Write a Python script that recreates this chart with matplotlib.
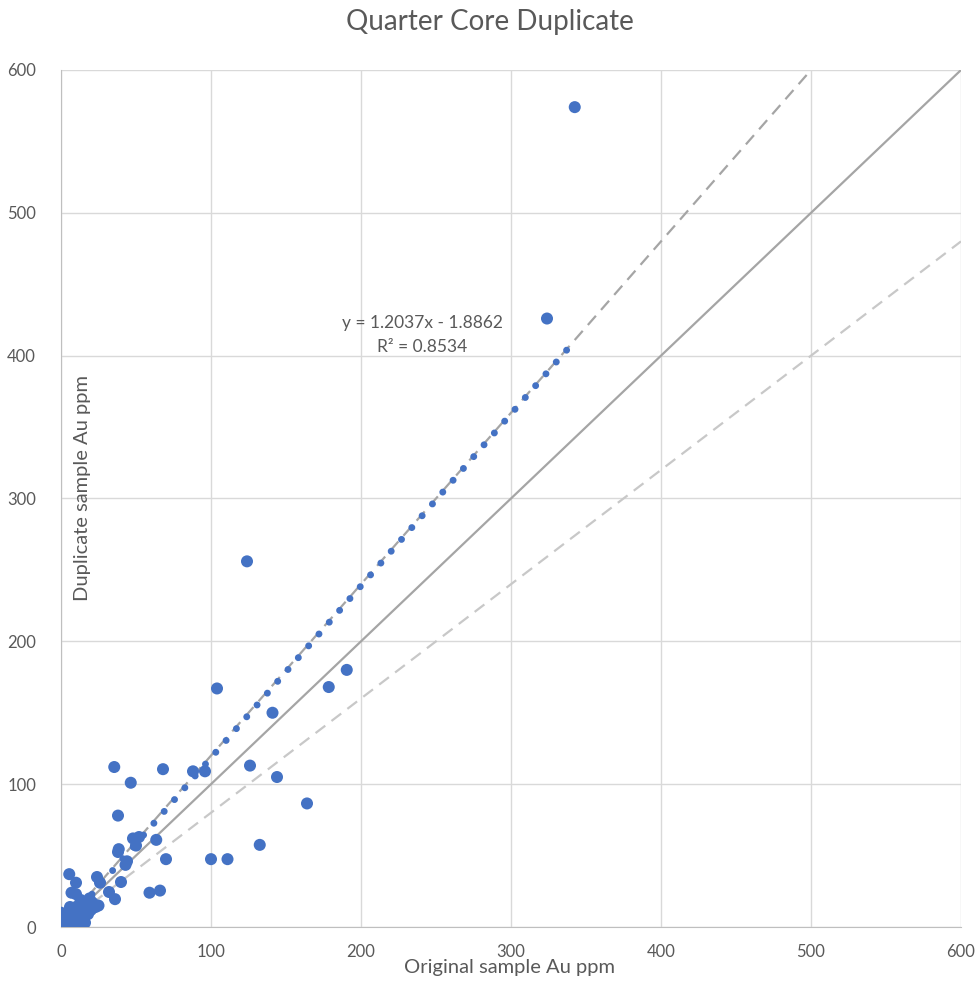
import matplotlib.pyplot as plt
import numpy as np

plt.rcParams['font.family'] = ['Lato', 'DejaVu Sans']

# original vs duplicate Au ppm
orig = [342.5, 324, 124, 104, 190.5, 178.5, 141, 126, 144, 164,
        132.5, 100, 111, 70, 68, 88, 96, 35.5, 46.5, 38,
        63.5, 48, 52, 50, 38.5, 38, 43, 44, 40, 59,
        66, 36, 32, 24, 26, 22,
        5.5, 10, 7, 10, 0, 3, 6, 1, 0, 4,
        8, 9, 11, 12, 13, 14, 15, 16, 17, 18,
        19, 20, 21, 23, 2, 7, 12, 25, 5, 10]
dup = [574, 426, 256, 167, 180, 168, 150, 113, 105, 86.5,
       57.5, 47.5, 47.5, 47.5, 110.5, 109, 109, 112, 101, 78,
       61, 62, 63, 57, 54.5, 52.5, 43.5, 46, 31.5, 24,
       25.5, 19.5, 24.5, 35, 31, 14,
       37, 31, 24, 23, 10, 3, 14, 0, 1, 8,
       1, 6, 9, 4, 19, 12, 7, 3, 15, 9,
       20, 12, 17, 14, 5, 11, 15, 15, 2, 14]

slope, intercept, r2 = 1.2037, -1.8862, 0.8534
ticks = [0, 100, 200, 300, 400, 500, 600]

grey = '#595959'
fig = plt.figure(figsize=(9.78, 9.81), dpi=100)
ax = fig.add_axes([61/978, 54/981, 900/978, 857/981])

ax.set_xlim(0, 600)
ax.set_ylim(0, 600)
ax.set_xticks(ticks)
ax.set_yticks(ticks)
ax.grid(True, color='#D9D9D9', lw=1)
ax.set_axisbelow(True)
for s in ['top', 'right']:
    ax.spines[s].set_visible(False)
for s in ['left', 'bottom']:
    ax.spines[s].set_color('#BFBFBF')
ax.tick_params(length=0, colors=grey, labelsize=12)
ax.tick_params(axis='x', pad=12)
ax.tick_params(axis='y', pad=18)

xs = np.array([0, 600])
ax.plot(xs, xs, color='#A5A5A5', lw=1.6, zorder=2)
ax.plot(xs, 1.2 * xs, color='#A5A5A5', lw=1.6, ls=(0, (5.5, 3.5)), zorder=2)
ax.plot(xs, 0.8 * xs, color='#C8C8C8', lw=1.6, ls=(0, (5.5, 3.5)), zorder=2)

ax.scatter(orig, dup, s=75, color='#4472C4', edgecolors='none', zorder=3)

tx = np.array([0, max(orig)])
ax.plot(tx, slope * tx + intercept, color='#4472C4', lw=5,
        ls=(0, (0.01, 2.25)), dash_capstyle='round', zorder=4, clip_on=True)

ax.text(240.7, 423, 'y = 1.2037x - 1.8862', ha='center', va='center',
        fontsize=12.5, color=grey)
ax.text(240.7, 406, 'R² = 0.8534', ha='center', va='center',
        fontsize=12.5, color=grey)

fig.text(490/978, 1 - 22/981, 'Quarter Core Duplicate', ha='center', va='center',
         fontsize=20, color=grey)
fig.text(510/978, 1 - 968/981, 'Original sample Au ppm', ha='center', va='center',
         fontsize=14.5, color=grey)
fig.text(83/978, 1 - 488/981, 'Duplicate sample Au ppm', ha='center', va='center',
         fontsize=14.5, color=grey, rotation=90)

fig.savefig('out.png', dpi=100)
